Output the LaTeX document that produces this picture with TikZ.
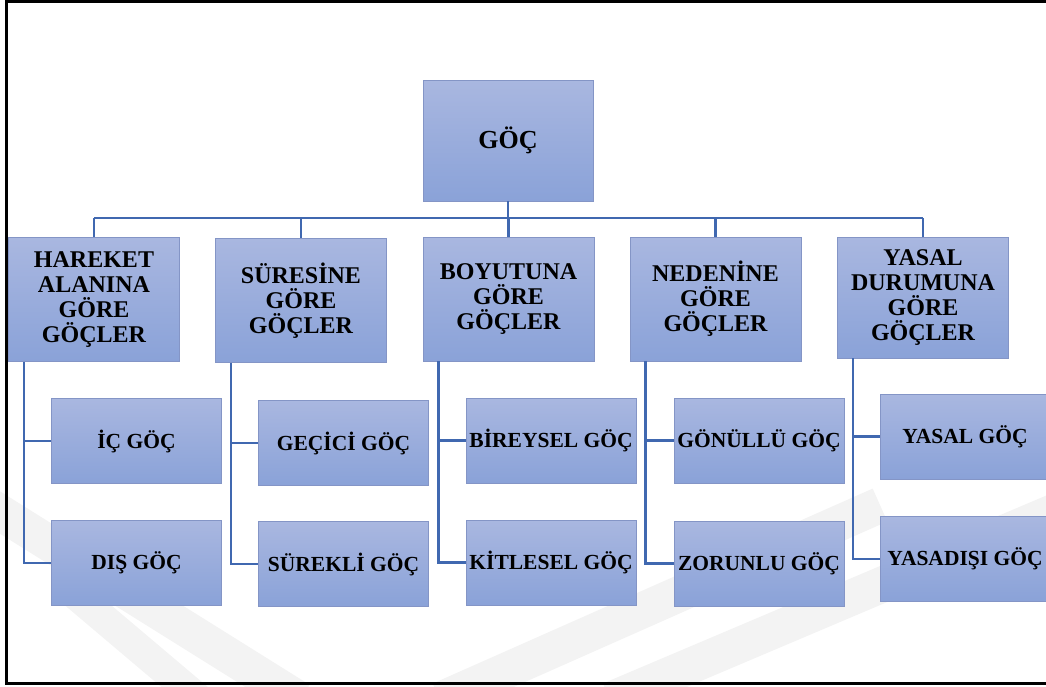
\documentclass[tikz,border=0pt]{standalone}
\usepackage{fontspec}
\setmainfont{Liberation Serif}
\usetikzlibrary{calc}

\definecolor{boxtop}{HTML}{A9B7E0}
\definecolor{boxbot}{HTML}{8AA2D8}
\definecolor{boxline}{HTML}{8495C6}
\definecolor{linkblue}{HTML}{4068B0}
\definecolor{wmark}{HTML}{F3F3F3}

\tikzset{
    cat/.style={draw=boxline, line width=0.9pt, top color=boxtop, bottom color=boxbot,
        inner sep=0pt, align=center, text=black},
    rootbox/.style={cat, minimum width=170pt, minimum height=121pt,
        font=\bfseries\fontsize{26}{27}\selectfont},
    groupbox/.style={cat, minimum width=171pt, minimum height=124pt,
        font=\bfseries\fontsize{24}{25}\selectfont},
    kindbox/.style={cat, minimum width=170pt, minimum height=85pt,
        font=\bfseries\fontsize{21.5}{23}\selectfont},
    link/.style={draw=linkblue, line width=2.6pt},
}

\begin{document}
\begin{tikzpicture}[x=1pt, y=-1pt]
            \useasboundingbox (0,0) rectangle (1046,686);

            % watermark bands
            \draw[wmark, line width=36pt] (-20,500) -- (300,700);
            \draw[wmark, line width=30pt] (70,590) -- (200,700);
            \draw[wmark, line width=36pt] (440,700) -- (880,505);
            \draw[wmark, line width=36pt] (610,700) -- (1070,505);

            % frame
            \draw[black, line width=2.4pt] (1060,1.5) -- (6.5,1.5) -- (6.5,683.5) -- (1060,683.5);

            \node[rootbox] (GOC) at (508,140.5) {GÖÇ};

            \node[groupbox] (HAREKET)  at (94,299.5)  {HAREKET\\ALANINA\\GÖRE\\GÖÇLER};
            \node[groupbox] (SURESINE) at (301,300.5) {SÜRESİNE\\GÖRE\\GÖÇLER};
            \node[groupbox] (BOYUTUNA) at (508.5,299) {BOYUTUNA\\GÖRE\\GÖÇLER};
            \node[groupbox] (NEDENINE) at (715.5,299) {NEDENİNE\\GÖRE\\GÖÇLER};
            \node[groupbox, minimum height=121pt] (YASAL) at (923,297.5) {YASAL\\DURUMUNA\\GÖRE\\GÖÇLER};

            \node[kindbox] (IC)       at (136.5,441)   {İÇ GÖÇ};
            \node[kindbox] (DIS)      at (136.5,563)   {DIŞ GÖÇ};
            \node[kindbox] (GECICI)   at (343.5,443)   {GEÇİCİ GÖÇ};
            \node[kindbox] (SUREKLI)  at (343.5,564)   {SÜREKLİ GÖÇ};
            \node[kindbox] (BIREYSEL) at (551,440.5)   {BİREYSEL GÖÇ};
            \node[kindbox] (KITLESEL) at (551,562.5)   {KİTLESEL GÖÇ};
            \node[kindbox] (GONULLU)  at (759,440.5)   {GÖNÜLLÜ GÖÇ};
            \node[kindbox] (ZORUNLU)  at (759,563.5)   {ZORUNLU GÖÇ};
            \node[kindbox] (YASALGOC) at (965,436.5)   {YASAL GÖÇ};
            \node[kindbox] (YASADISI) at (965,559)     {YASADIŞI GÖÇ};

            \coordinate (BUS) at (508,218);

            \draw[link] (GOC.south) -- (BUS);
            \draw[link] (BUS -| HAREKET.north) -- (BUS -| YASAL.north);
            \foreach \g in {HAREKET, SURESINE, BOYUTUNA, NEDENINE, YASAL}
                \draw[link] (BUS -| \g.north) -- (\g.north);

            \draw[link] ([xshift=16pt]HAREKET.south west) |- (IC.west);
            \draw[link] ([xshift=16pt]HAREKET.south west) |- (DIS.west);

            \draw[link] ([xshift=16pt]SURESINE.south west) |- (GECICI.west);
            \draw[link] ([xshift=16pt]SURESINE.south west) |- (SUREKLI.west);

            \draw[link] ([xshift=16pt]BOYUTUNA.south west) |- (BIREYSEL.west);
            \draw[link] ([xshift=16pt]BOYUTUNA.south west) |- (KITLESEL.west);

            \draw[link] ([xshift=16pt]NEDENINE.south west) |- (GONULLU.west);
            \draw[link] ([xshift=16pt]NEDENINE.south west) |- (ZORUNLU.west);

            \draw[link] ([xshift=16pt]YASAL.south west) |- (YASALGOC.west);
            \draw[link] ([xshift=16pt]YASAL.south west) |- (YASADISI.west);
\end{tikzpicture}
\end{document}
